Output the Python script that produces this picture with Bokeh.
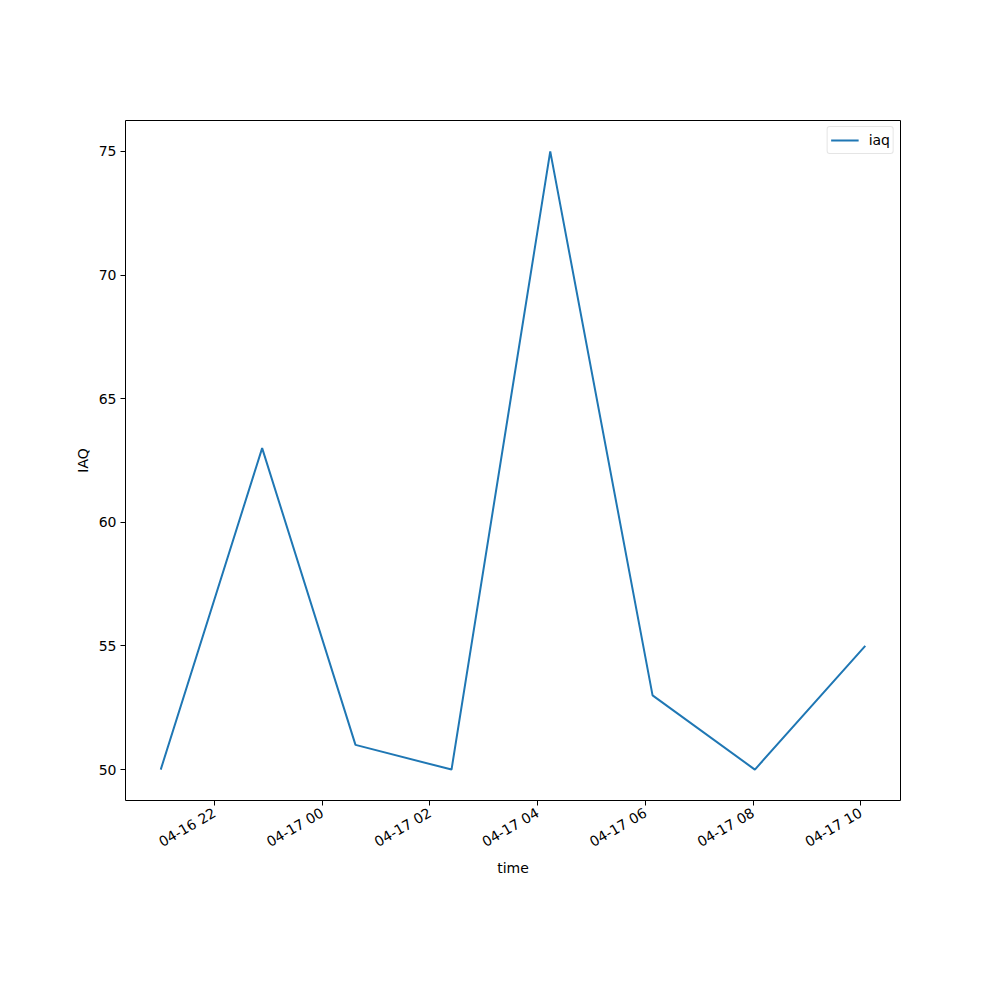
import math
from datetime import datetime
from bokeh.plotting import figure
from bokeh.models import (ColumnDataSource, FixedTicker, DatetimeTickFormatter,
                          Range1d, Legend, LegendItem)
from bokeh.embed import file_html
from bokeh.resources import INLINE

# ---- data ----
times = [
    datetime(2023, 4, 16, 21, 0),
    datetime(2023, 4, 16, 22, 53),
    datetime(2023, 4, 17, 0, 37),
    datetime(2023, 4, 17, 2, 24),
    datetime(2023, 4, 17, 4, 14),
    datetime(2023, 4, 17, 6, 8),
    datetime(2023, 4, 17, 8, 2),
    datetime(2023, 4, 17, 10, 5),
]
iaq = [50, 63, 51, 50, 75, 53, 50, 55]
x_ticks = [
    datetime(2023, 4, 16, 22),
    datetime(2023, 4, 17, 0),
    datetime(2023, 4, 17, 2),
    datetime(2023, 4, 17, 4),
    datetime(2023, 4, 17, 6),
    datetime(2023, 4, 17, 8),
    datetime(2023, 4, 17, 10),
]
y_ticks = [50, 55, 60, 65, 70, 75]

def ms(d):
    return (d - datetime(1970, 1, 1)).total_seconds() * 1000.0

t0, t1 = ms(times[0]), ms(times[-1])
pad_x = (t1 - t0) * 0.05
pad_y = (max(iaq) - min(iaq)) * 0.05

src = ColumnDataSource(dict(t=times, v=iaq))

FONT = "DejaVu Sans"
p = figure(width=992, height=992, x_axis_type="datetime",
           output_backend="svg", toolbar_location=None,
           x_range=Range1d(t0 - pad_x, t1 + pad_x),
           y_range=Range1d(min(iaq) - pad_y, max(iaq) + pad_y))
p.frame_width = 775
p.frame_height = 680
p.min_border_left = 125
p.min_border_right = 92
p.min_border_top = 120
p.min_border_bottom = 192
p.xgrid.visible = False
p.ygrid.visible = False
p.outline_line_color = "black"
p.outline_line_width = 1

r = p.line("t", "v", source=src, line_color="#1f77b4", line_width=2)

p.xaxis.ticker = FixedTicker(ticks=[ms(d) for d in x_ticks])
p.xaxis.formatter = DatetimeTickFormatter(hours="%m-%d %H", days="%m-%d %H",
                                          minutes="%m-%d %H", hourmin="%m-%d %H")
p.xaxis.major_label_orientation = math.pi / 6
p.yaxis.ticker = FixedTicker(ticks=y_ticks)

for ax in (p.xaxis[0], p.yaxis[0]):
    ax.axis_line_color = None
    ax.major_tick_in = 0
    ax.major_tick_out = 5
    ax.minor_tick_line_color = None
    ax.major_label_text_font = FONT
    ax.major_label_text_font_size = "14px"
    ax.major_label_text_color = "black"
    ax.axis_label_text_font = FONT
    ax.axis_label_text_font_size = "14px"
    ax.axis_label_text_font_style = "normal"
    ax.axis_label_text_color = "black"
    ax.major_label_standoff = 4

p.xaxis.major_label_standoff = 6
p.xaxis.axis_label_standoff = 0
p.xaxis.axis_label = "time"
p.yaxis.axis_label = "IAQ"

legend = Legend(items=[LegendItem(label="iaq", renderers=[r])],
                location="top_right")
legend.label_text_font = FONT
legend.label_text_font_size = "14px"
legend.label_text_color = "black"
legend.border_line_color = "#cccccc"
legend.border_line_width = 1
legend.border_radius = 3
legend.padding = 3
legend.margin = 6
legend.spacing = 0
legend.glyph_width = 28
legend.label_standoff = 10
p.add_layout(legend)

open("out.html", "w").write(file_html(p, INLINE))
